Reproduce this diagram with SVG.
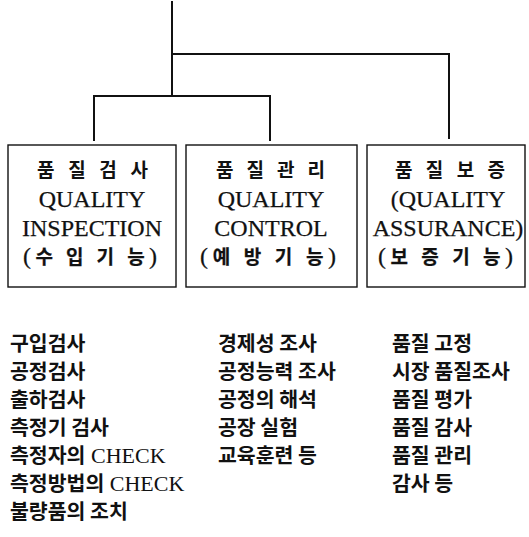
<svg xmlns="http://www.w3.org/2000/svg" width="529" height="537" viewBox="0 0 529 537">
<style>
.box{fill:#fff;stroke:#111;stroke-width:1.4}
.ln{fill:none;stroke:#111;stroke-width:2;stroke-linecap:square}
.ko{font-family:"Noto Sans CJK KR",sans-serif;font-weight:700;font-size:19px;fill:#111}
.en{font-family:"Liberation Serif",serif;font-size:24px;fill:#111;stroke:#111;stroke-width:0.25}
.li{font-family:"Liberation Serif","Noto Sans CJK KR",serif;font-size:22px;fill:#111}
.lk{font-family:"Noto Sans CJK KR",sans-serif;font-weight:700;font-size:20.5px}
</style>
<rect width="529" height="537" fill="#fff"/>
<g id="connectors">
<path class="ln" d="M172 2V96M172 54H449V138M94 96H270M94 96V140M270 96V140"/>
</g>
<g id="node-inspection">
<rect class="box" x="8" y="145" width="168" height="142"/>
<text class="ko" x="37" y="177" textLength="111" lengthAdjust="spacing">품 질 검 사</text>
<text class="en" x="92" y="207" text-anchor="middle">QUALITY</text>
<text class="en" x="92" y="236" text-anchor="middle">INSPECTION</text>
<text class="en" x="23" y="264" textLength="134" lengthAdjust="spacing">(<tspan class="ko">수 입 기 능</tspan>)</text>
</g>
<g id="node-control">
<rect class="box" x="186" y="145" width="171" height="142"/>
<text class="ko" x="216" y="177" textLength="109" lengthAdjust="spacing">품 질 관 리</text>
<text class="en" x="271" y="207" text-anchor="middle">QUALITY</text>
<text class="en" x="271" y="236" text-anchor="middle">CONTROL</text>
<text class="en" x="200" y="264" textLength="136" lengthAdjust="spacing">(<tspan class="ko">예 방 기 능</tspan>)</text>
</g>
<g id="node-assurance">
<rect class="box" x="367" y="145" width="158" height="142"/>
<text class="ko" x="395" y="177" textLength="110" lengthAdjust="spacing">품 질 보 증</text>
<text class="en" x="448" y="207" text-anchor="middle">(QUALITY</text>
<text class="en" x="448" y="236" text-anchor="middle">ASSURANCE)</text>
<text class="en" x="378" y="264" textLength="135" lengthAdjust="spacing">(<tspan class="ko">보 증 기 능</tspan>)</text>
</g>
<g id="list-inspection" class="li">
<text x="10" y="351"><tspan class="lk">구입검사</tspan></text>
<text x="10" y="379"><tspan class="lk">공정검사</tspan></text>
<text x="10" y="407"><tspan class="lk">출하검사</tspan></text>
<text x="10" y="435"><tspan class="lk">측정기 검사</tspan></text>
<text x="10" y="463"><tspan class="lk">측정자의</tspan> CHECK</text>
<text x="10" y="491"><tspan class="lk">측정방법의</tspan> CHECK</text>
<text x="10" y="519"><tspan class="lk">불량품의 조치</tspan></text>
</g>
<g id="list-control" class="li">
<text x="218" y="351"><tspan class="lk">경제성 조사</tspan></text>
<text x="218" y="379"><tspan class="lk">공정능력 조사</tspan></text>
<text x="218" y="407"><tspan class="lk">공정의 해석</tspan></text>
<text x="218" y="435"><tspan class="lk">공장 실험</tspan></text>
<text x="218" y="463"><tspan class="lk">교육훈련 등</tspan></text>
</g>
<g id="list-assurance" class="li">
<text x="392" y="351"><tspan class="lk">품질 고정</tspan></text>
<text x="392" y="379"><tspan class="lk">시장 품질조사</tspan></text>
<text x="392" y="407"><tspan class="lk">품질 평가</tspan></text>
<text x="392" y="435"><tspan class="lk">품질 감사</tspan></text>
<text x="392" y="463"><tspan class="lk">품질 관리</tspan></text>
<text x="392" y="491"><tspan class="lk">감사 등</tspan></text>
</g>
</svg>
